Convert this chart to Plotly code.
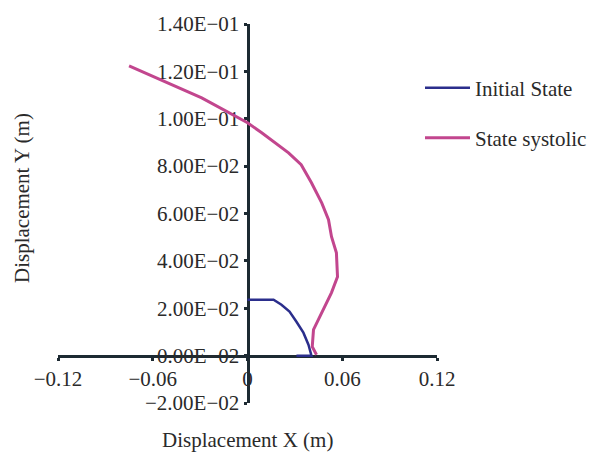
import plotly.graph_objects as go

# Data
initial_x = [0.0, 0.0165, 0.0215, 0.0266, 0.031, 0.0354, 0.0386, 0.0405, 0.031]
initial_y = [0.0236, 0.0236, 0.0215, 0.0186, 0.0143, 0.0097, 0.0046, 0.0, 0.0]

systolic_x = [-0.075, -0.050, -0.029, 0.0, 0.009, 0.026, 0.034, 0.0405, 0.047,
              0.0513, 0.0532, 0.0563, 0.057, 0.0532, 0.0468, 0.0418, 0.041, 0.0437]
systolic_y = [0.1223, 0.1151, 0.1088, 0.0983, 0.0941, 0.0856, 0.0806, 0.073, 0.0645,
              0.0574, 0.0502, 0.0434, 0.0333, 0.0266, 0.0181, 0.011, 0.0038, 0.0004]

x_tickvals = [-0.12, -0.06, 0, 0.06, 0.12]
x_ticktext = ["\u22120.12", "\u22120.06", "0", "0.06", "0.12"]
y_tickvals = [0.14, 0.12, 0.10, 0.08, 0.06, 0.04, 0.02, 0.0, -0.02]
y_ticktext = ["1.40E\u221201", "1.20E\u221201", "1.00E\u221201", "8.00E\u221202", "6.00E\u221202",
              "4.00E\u221202", "2.00E\u221202", "0.00E\u221202", "\u22122.00E\u221202"]

FONT = "Liberation Serif, Times New Roman, serif"
TXT = "#2a2a2a"
AXC = "#1d2a32"

fig = go.Figure()
fig.add_trace(go.Scatter(x=initial_x, y=initial_y, mode="lines", name="Initial State",
                         line=dict(color="#2b2e8c", width=2.5), legend="legend", showlegend=True))
fig.add_trace(go.Scatter(x=systolic_x, y=systolic_y, mode="lines", name="State systolic",
                         line=dict(color="#c2468e", width=3), legend="legend2", showlegend=True))

fig.update_layout(
    width=599, height=454,
    margin=dict(l=58, r=162, t=24, b=51, autoexpand=False),
    paper_bgcolor="white", plot_bgcolor="white",
    showlegend=True,
    font=dict(family=FONT, size=21, color=TXT),
    xaxis=dict(range=[-0.12, 0.12], tickvals=x_tickvals, ticktext=x_ticktext,
               anchor="free", position=0.125, showline=True, linecolor=AXC, linewidth=3,
               ticks="outside", ticklen=3, tickwidth=3, tickcolor=AXC,
               showgrid=False, zeroline=False, layer="below traces",
               tickfont=dict(family=FONT, size=21, color=TXT)),
    yaxis=dict(range=[-0.02, 0.14], tickvals=y_tickvals, ticktext=y_ticktext,
               anchor="free", position=0.5, showline=True, linecolor=AXC, linewidth=3,
               ticks="outside", ticklen=3, tickwidth=3, tickcolor=AXC,
               showgrid=False, zeroline=False, layer="below traces",
               tickfont=dict(family=FONT, size=21, color=TXT)),
    legend=dict(x=(420 - 58) / 379, y=(403 - 88) / 379, xanchor="left", yanchor="middle",
                itemwidth=45, bgcolor="rgba(0,0,0,0)", font=dict(family=FONT, size=21, color=TXT)),
    legend2=dict(x=(420 - 58) / 379, y=(403 - 138) / 379, xanchor="left", yanchor="middle",
                 itemwidth=45, bgcolor="rgba(0,0,0,0)", font=dict(family=FONT, size=21, color=TXT)),
    annotations=[
        dict(text="Displacement X (m)", xref="paper", yref="paper",
             x=(247 - 58) / 379, y=(403 - 440) / 379, xanchor="center", yanchor="middle",
             showarrow=False, font=dict(family=FONT, size=21, color=TXT)),
        dict(text="Displacement Y (m)", xref="paper", yref="paper", textangle=-90,
             x=(22 - 58) / 379, y=(403 - 198) / 379, xanchor="center", yanchor="middle",
             showarrow=False, font=dict(family=FONT, size=21, color=TXT)),
    ],
)

fig.write_html("out.html")
